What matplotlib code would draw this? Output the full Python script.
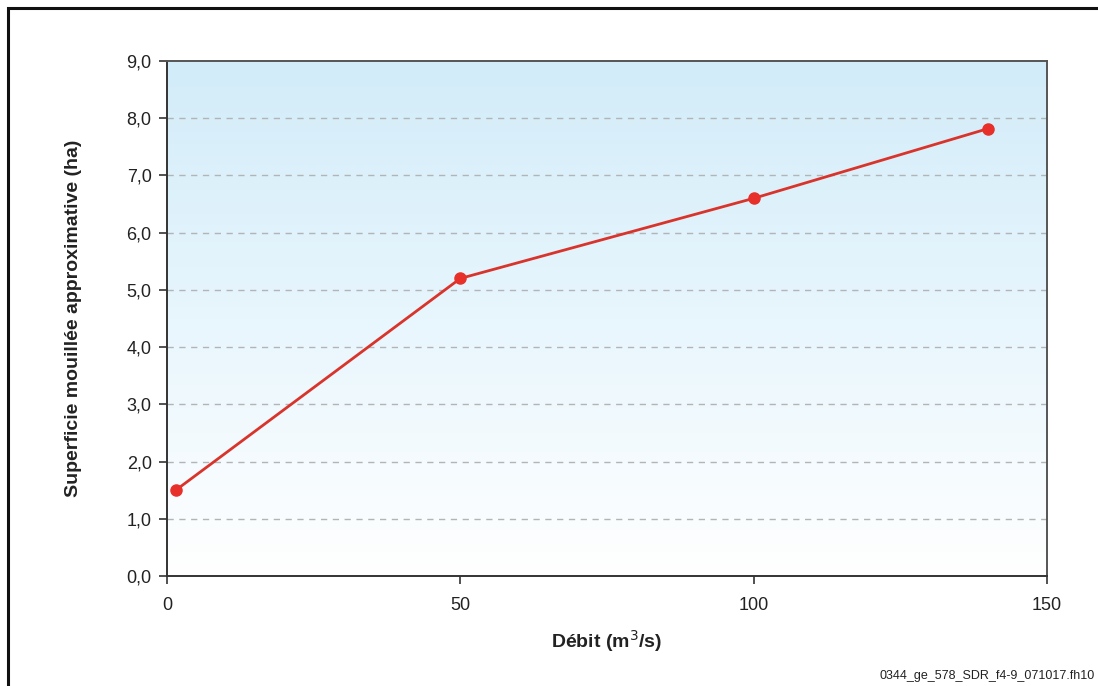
import matplotlib
matplotlib.use("Agg")
import matplotlib.pyplot as plt
import numpy as np
from matplotlib.colors import LinearSegmentedColormap
from matplotlib.patches import Rectangle

plt.rcParams['font.family'] = ['Liberation Sans', 'DejaVu Sans']

debit = [1.5, 50, 100, 140]
superficie = [1.5, 5.2, 6.6, 7.82]
x_ticks = [0, 50, 100, 150]
x_tick_labels = ["0", "50", "100", "150"]
y_ticks = [0, 1, 2, 3, 4, 5, 6, 7, 8, 9]
y_tick_labels = ["0,0", "1,0", "2,0", "3,0", "4,0", "5,0", "6,0", "7,0", "8,0", "9,0"]

fig = plt.figure(figsize=(10.98, 6.86), dpi=100)
ax = fig.add_axes([167/1098, 1-576/686, 880/1098, 515/686])

# gradient background
cmap = LinearSegmentedColormap.from_list("bg", ["#ffffff", "#e8f6fd", "#d2ecf9"])
grad = np.linspace(0, 1, 256).reshape(-1, 1)
ax.imshow(grad, aspect='auto', cmap=cmap, origin='lower',
          extent=[0, 150, 0, 9], zorder=0)

ax.set_xlim(0, 150)
ax.set_ylim(0, 9)

for y in y_ticks[1:-1]:
    ax.axhline(y, color="#b2b4b6", lw=1.0, ls=(0, (4.5, 4)), zorder=1)

ax.plot(debit, superficie, color="#d9342b", lw=2.0, marker='o',
        markersize=8, markerfacecolor="#e8302a", markeredgecolor="#e8302a", zorder=3)

ax.set_xticks(x_ticks)
ax.set_xticklabels(x_tick_labels)
ax.set_yticks(y_ticks)
ax.set_yticklabels(y_tick_labels)
ax.tick_params(axis='both', direction='out', length=6, width=1.2, color="#333333",
               labelsize=13, labelcolor="#222222", pad=5)
ax.tick_params(axis='x', pad=9)

for s in ['left', 'bottom']:
    ax.spines[s].set_color("#333333")
    ax.spines[s].set_linewidth(1.4)
for s in ['top', 'right']:
    ax.spines[s].set_color("#555555")
    ax.spines[s].set_linewidth(1.4)

ax.set_xlabel("Débit (m$^{3}$/s)", fontsize=14, fontweight='bold', color="#222222")
ax.set_ylabel("Superficie mouillée approximative (ha)", fontsize=14, fontweight='bold',
              color="#222222")
ax.xaxis.set_label_coords(0.5, -(628-576)/515, transform=ax.transAxes)
ax.yaxis.set_label_coords(-(167-82)/880, 0.5, transform=ax.transAxes)

# outer frame
fig.patches.append(Rectangle((8/1098, -0.1), 1.2, 1 - 8/686 + 0.1, transform=fig.transFigure,
                             fill=False, edgecolor="#111111", lw=2.2))

fig.text(880/1098, 1-676/686, "0344_ge_578_SDR_f4-9_071017.fh10", fontsize=9,
         color="#222222", ha='left', va='center')

fig.savefig("out.png", dpi=100)
